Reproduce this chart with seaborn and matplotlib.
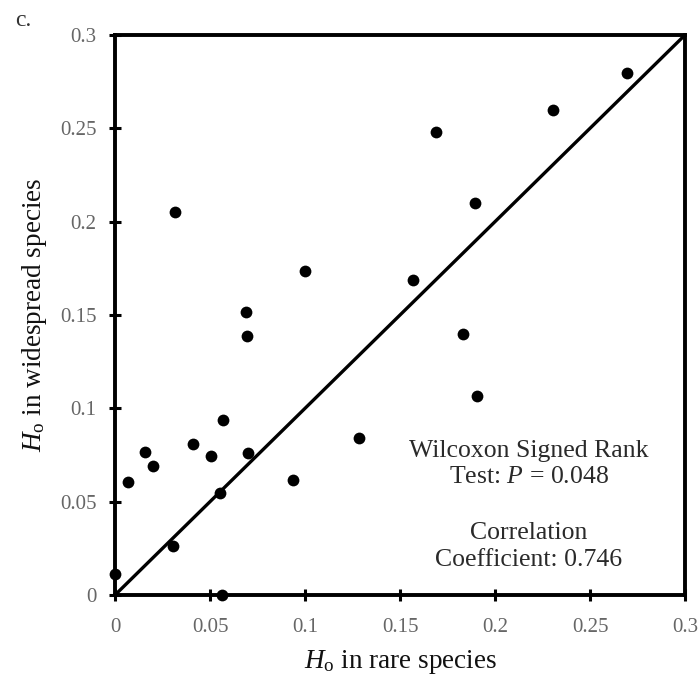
import matplotlib
matplotlib.use("Agg")
import matplotlib.pyplot as plt
import seaborn as sns
import pandas as pd

rare = [0.000, 0.0067, 0.016, 0.020, 0.041, 0.0507, 0.057, 0.0553, 0.0304, 0.0561,
        0.0702, 0.0693, 0.0688, 0.0316, 0.100, 0.0935, 0.1284, 0.1895, 0.169, 0.2303,
        0.2697, 0.1567, 0.183, 0.1907]
widespread = [0.011, 0.0607, 0.0768, 0.069, 0.0807, 0.0745, 0.094, 0.0545, 0.0262, 0.000,
              0.0759, 0.139, 0.1518, 0.205, 0.1737, 0.0616, 0.0839, 0.210, 0.248, 0.2598,
              0.2798, 0.1687, 0.1396, 0.1067]
ticks = [0, 0.05, 0.1, 0.15, 0.2, 0.25, 0.3]
tick_labels = ["0", "0.05", "0.1", "0.15", "0.2", "0.25", "0.3"]

df = pd.DataFrame({"rare": rare, "widespread": widespread})

sns.set_theme(style="white")
plt.rcParams["font.family"] = ["Liberation Serif", "DejaVu Serif"]
plt.rcParams["mathtext.fontset"] = "custom"
plt.rcParams["mathtext.rm"] = "Liberation Serif"
plt.rcParams["mathtext.it"] = "Liberation Serif:italic"

fig = plt.figure(figsize=(6.98, 6.79), dpi=100)
ax = fig.add_axes([0.1648, 0.1237, 0.8166, 0.8248])

sns.lineplot(x=[0, 0.3], y=[0, 0.3], ax=ax, color="black", linewidth=2.4)
sns.scatterplot(data=df, x="rare", y="widespread", ax=ax, color="black", s=72,
                edgecolor="black", linewidth=0, clip_on=False, zorder=3)

ax.set_xlim(0, 0.3)
ax.set_ylim(0, 0.3)
ax.set_xticks(ticks)
ax.set_xticklabels(tick_labels)
ax.set_yticks(ticks)
ax.set_yticklabels(tick_labels)
for sp in ax.spines.values():
    sp.set_linewidth(2.8)
    sp.set_color("black")
ax.tick_params(axis="both", direction="inout", length=9, width=2.2, color="black",
               labelsize=15, labelcolor="#666666", bottom=True, left=True, top=False, right=False)
ax.tick_params(axis="x", pad=12)
ax.tick_params(axis="y", pad=9)

ax.set_xlabel(r"$H_{\rm o}$ in rare species", fontsize=19.5, labelpad=8, color="#111111")
ax.set_ylabel(r"$H_{\rm o}$ in widespread species", fontsize=19.5, labelpad=8, color="#111111")

ax.text(0.2179, 0.0702, "Wilcoxon Signed Rank\nTest: $P$ = 0.048", ha="center", va="center",
        fontsize=18.5, color="#2a2a2a", linespacing=1.28)
ax.text(0.2179, 0.0258, "Correlation\nCoefficient: 0.746", ha="center", va="center",
        fontsize=18.5, color="#2a2a2a", linespacing=1.28)

fig.text(15 / 698, 1 - 21 / 679, "c.", fontsize=17, color="#333333", ha="left", va="center")

fig.savefig("out.png", dpi=100)
